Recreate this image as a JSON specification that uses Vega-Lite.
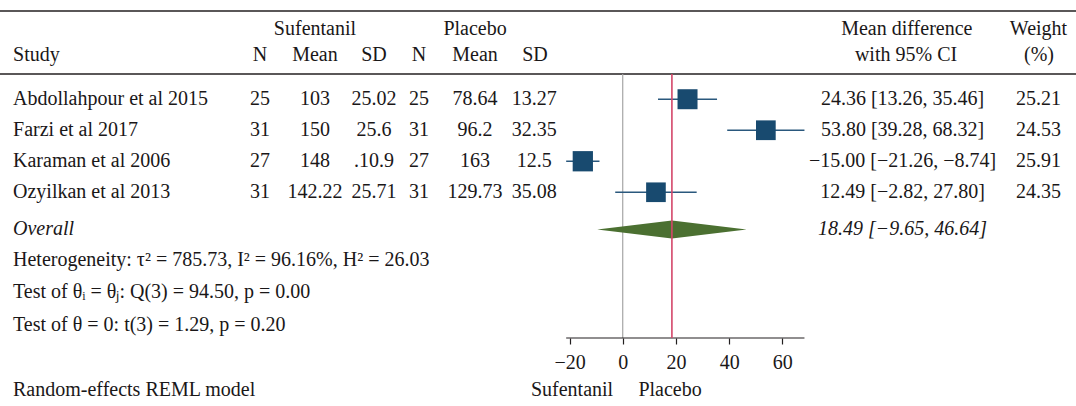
{
  "$schema": "https://vega.github.io/schema/vega-lite/v6.json",
  "width": 1076,
  "height": 338,
  "autosize": {"type": "none"},
  "padding": {"left": 0, "top": 0, "right": 0, "bottom": 68},
  "background": "white",
  "config": {
    "view": {"stroke": null},
    "text": {"font": "Liberation Serif", "fontSize": 20, "color": "#1a1718", "baseline": "middle"},
    "axisY": {"disable": true}
  },
  "datasets": {
    "studies": [
      {"row": 1, "study": "Abdollahpour et al 2015", "n1": 25, "mean1": 103, "sd1": 25.02, "n2": 25, "mean2": 78.64, "sd2": 13.27, "es": 24.36, "lo": 13.26, "hi": 35.46, "weight": 25.21},
      {"row": 2, "study": "Farzi et al 2017", "n1": 31, "mean1": 150, "sd1": 25.6, "n2": 31, "mean2": 96.2, "sd2": 32.35, "es": 53.80, "lo": 39.28, "hi": 68.32, "weight": 24.53},
      {"row": 3, "study": "Karaman et al 2006", "n1": 27, "mean1": 148, "sd1": ".10.9", "n2": 27, "mean2": 163, "sd2": 12.5, "es": -15.00, "lo": -21.26, "hi": -8.74, "weight": 25.91},
      {"row": 4, "study": "Ozyilkan et al 2013", "n1": 31, "mean1": 142.22, "sd1": 25.71, "n2": 31, "mean2": 129.73, "sd2": 35.08, "es": 12.49, "lo": -2.82, "hi": 27.80, "weight": 24.35}
    ],
    "overall": [{"es": 18.49, "lo": -9.65, "hi": 46.64}]
  },
  "data": {"name": "studies"},
  "layer": [
    {
      "data": {"values": [{}]},
      "mark": {"type": "rule", "color": "#231f20", "strokeWidth": 1.5},
      "encoding": {
        "x": {"datum": -234.1, "type": "quantitative", "scale": {"domain": [-234.1, 170.4], "nice": false, "zero": false},
              "axis": {"values": [-20, 0, 20, 40, 60], "title": null, "domain": false, "grid": false, "ticks": true, "tickSize": 6, "tickColor": "#231f20", "tickWidth": 1.2, "labelFont": "Liberation Serif", "labelFontSize": 20, "labelColor": "#1a1718", "labelPadding": 8}},
        "x2": {"datum": 170.4},
        "y": {"datum": -1.845, "type": "quantitative", "scale": {"domain": [-2.2, 8.7], "reverse": true, "nice": false, "zero": false}, "axis": null}
      }
    },
    {
      "data": {"values": [{}]},
      "mark": {"type": "rule", "color": "#231f20", "strokeWidth": 1.5},
      "encoding": {"x": {"datum": -234.1}, "x2": {"datum": 170.4}, "y": {"datum": 0.187}}
    },
    {
      "data": {"values": [{}]},
      "mark": {"type": "rule", "color": "#a6a6a6", "strokeWidth": 1.2},
      "encoding": {"x": {"datum": 0}, "y": {"datum": 0.187}, "y2": {"datum": 8.7}}
    },
    {
      "transform": [{"aggregate": [{"op": "min", "field": "lo", "as": "axmin"}, {"op": "max", "field": "hi", "as": "axmax"}]}],
      "mark": {"type": "rule", "color": "#231f20", "strokeWidth": 1.2},
      "encoding": {"x": {"field": "axmin", "type": "quantitative", "title": null}, "x2": {"field": "axmax"}, "y": {"datum": 8.7}}
    },
    {
      "mark": {"type": "rule", "color": "#2a587d", "strokeWidth": 1.6},
      "encoding": {"x": {"field": "lo", "type": "quantitative", "title": null}, "x2": {"field": "hi"}, "y": {"field": "row", "type": "quantitative", "axis": null}}
    },
    {
      "mark": {"type": "point", "shape": "square", "filled": true, "color": "#184a6f", "opacity": 1},
      "encoding": {
        "x": {"field": "es", "type": "quantitative", "title": null},
        "y": {"field": "row", "type": "quantitative", "axis": null},
        "size": {"field": "weight", "type": "quantitative", "scale": {"domain": [0, 25.21], "range": [0, 400]}, "legend": null}
      }
    },
    {
      "data": {"name": "overall"},
      "mark": {"type": "point", "shape": "M-1,0L0,-0.1205L1,0L0,0.1205Z", "filled": true, "color": "#4b7031", "opacity": 1, "size": 22320},
      "encoding": {"x": {"field": "es", "type": "quantitative", "title": null}, "y": {"datum": 5.2}}
    },
    {
      "data": {"name": "overall"},
      "mark": {"type": "rule", "color": "#d4466a", "strokeWidth": 1.6},
      "encoding": {"x": {"field": "es", "type": "quantitative", "title": null}, "y": {"datum": 0.187}, "y2": {"datum": 8.7}}
    },
    {
      "mark": {"type": "text", "align": "left"},
      "encoding": {"x": {"datum": -229.2}, "y": {"field": "row", "type": "quantitative", "axis": null}, "text": {"field": "study", "type": "nominal"}}
    },
    {
      "mark": {"type": "text", "align": "center"},
      "encoding": {"x": {"datum": -136.35}, "y": {"field": "row", "type": "quantitative", "axis": null}, "text": {"field": "n1", "type": "nominal"}}
    },
    {
      "mark": {"type": "text", "align": "center"},
      "encoding": {"x": {"datum": -115.7}, "y": {"field": "row", "type": "quantitative", "axis": null}, "text": {"field": "mean1", "type": "nominal"}}
    },
    {
      "mark": {"type": "text", "align": "center"},
      "encoding": {"x": {"datum": -93.5}, "y": {"field": "row", "type": "quantitative", "axis": null}, "text": {"field": "sd1", "type": "nominal"}}
    },
    {
      "mark": {"type": "text", "align": "center"},
      "encoding": {"x": {"datum": -76.6}, "y": {"field": "row", "type": "quantitative", "axis": null}, "text": {"field": "n2", "type": "nominal"}}
    },
    {
      "mark": {"type": "text", "align": "center"},
      "encoding": {"x": {"datum": -55.5}, "y": {"field": "row", "type": "quantitative", "axis": null}, "text": {"field": "mean2", "type": "nominal"}}
    },
    {
      "mark": {"type": "text", "align": "center"},
      "encoding": {"x": {"datum": -33.3}, "y": {"field": "row", "type": "quantitative", "axis": null}, "text": {"field": "sd2", "type": "nominal"}}
    },
    {
      "transform": [{"calculate": "format(datum.es, '.2f') + ' [' + format(datum.lo, '.2f') + ', ' + format(datum.hi, '.2f') + ']'", "as": "citext"}],
      "mark": {"type": "text", "align": "center"},
      "encoding": {"x": {"datum": 105.2}, "y": {"field": "row", "type": "quantitative", "axis": null}, "text": {"field": "citext", "type": "nominal"}}
    },
    {
      "mark": {"type": "text", "align": "center"},
      "encoding": {"x": {"datum": 156.3}, "y": {"field": "row", "type": "quantitative", "axis": null}, "text": {"field": "weight", "type": "quantitative", "format": ".2f"}}
    },
    {
      "data": {"name": "overall"},
      "transform": [{"calculate": "format(datum.es, '.2f') + ' [' + format(datum.lo, '.2f') + ', ' + format(datum.hi, '.2f') + ']'", "as": "citext"}],
      "mark": {"type": "text", "align": "center", "fontStyle": "italic"},
      "encoding": {"x": {"datum": 105.2}, "y": {"datum": 5.2}, "text": {"field": "citext", "type": "nominal"}}
    },
    {"data": {"values": [{}]}, "mark": {"type": "text", "text": "Sufentanil", "align": "center"}, "encoding": {"x": {"datum": -115.7}, "y": {"datum": -1.265}}},
    {"data": {"values": [{}]}, "mark": {"type": "text", "text": "Placebo", "align": "center"}, "encoding": {"x": {"datum": -55.5}, "y": {"datum": -1.265}}},
    {"data": {"values": [{}]}, "mark": {"type": "text", "text": "Study", "align": "left"}, "encoding": {"x": {"datum": -229.2}, "y": {"datum": -0.426}}},
    {"data": {"values": [{}]}, "mark": {"type": "text", "text": "N", "align": "center"}, "encoding": {"x": {"datum": -136.35}, "y": {"datum": -0.426}}},
    {"data": {"values": [{}]}, "mark": {"type": "text", "text": "Mean", "align": "center"}, "encoding": {"x": {"datum": -115.7}, "y": {"datum": -0.426}}},
    {"data": {"values": [{}]}, "mark": {"type": "text", "text": "SD", "align": "center"}, "encoding": {"x": {"datum": -93.5}, "y": {"datum": -0.426}}},
    {"data": {"values": [{}]}, "mark": {"type": "text", "text": "N", "align": "center"}, "encoding": {"x": {"datum": -76.6}, "y": {"datum": -0.426}}},
    {"data": {"values": [{}]}, "mark": {"type": "text", "text": "Mean", "align": "center"}, "encoding": {"x": {"datum": -55.5}, "y": {"datum": -0.426}}},
    {"data": {"values": [{}]}, "mark": {"type": "text", "text": "SD", "align": "center"}, "encoding": {"x": {"datum": -33.0}, "y": {"datum": -0.426}}},
    {"data": {"values": [{}]}, "mark": {"type": "text", "text": "Mean difference", "align": "center"}, "encoding": {"x": {"datum": 106.8}, "y": {"datum": -1.265}}},
    {"data": {"values": [{}]}, "mark": {"type": "text", "text": "with 95% CI", "align": "center"}, "encoding": {"x": {"datum": 106.5}, "y": {"datum": -0.426}}},
    {"data": {"values": [{}]}, "mark": {"type": "text", "text": "Weight", "align": "center"}, "encoding": {"x": {"datum": 156.3}, "y": {"datum": -1.265}}},
    {"data": {"values": [{}]}, "mark": {"type": "text", "text": "(%)", "align": "center"}, "encoding": {"x": {"datum": 156.5}, "y": {"datum": -0.426}}},
    {"data": {"values": [{}]}, "mark": {"type": "text", "text": "Overall", "align": "left", "fontStyle": "italic"}, "encoding": {"x": {"datum": -229.2}, "y": {"datum": 5.2}}},
    {"data": {"values": [{}]}, "mark": {"type": "text", "text": "Heterogeneity: τ² = 785.73, I² = 96.16%, H² = 26.03", "align": "left"}, "encoding": {"x": {"datum": -229.2}, "y": {"datum": 6.19}}},
    {"data": {"values": [{}]}, "mark": {"type": "text", "text": "Test of θᵢ = θⱼ: Q(3) = 94.50, p = 0.00", "align": "left"}, "encoding": {"x": {"datum": -229.2}, "y": {"datum": 7.22}}},
    {"data": {"values": [{}]}, "mark": {"type": "text", "text": "Test of θ = 0: t(3) = 1.29, p = 0.20", "align": "left"}, "encoding": {"x": {"datum": -229.2}, "y": {"datum": 8.28}}},
    {"data": {"values": [{}]}, "mark": {"type": "text", "text": "Random-effects REML model", "align": "left"}, "encoding": {"x": {"datum": -229.2}, "y": {"datum": 10.38}}},
    {"data": {"values": [{}]}, "mark": {"type": "text", "text": "Sufentanil", "align": "center"}, "encoding": {"x": {"datum": -19.06}, "y": {"datum": 10.38}}},
    {"data": {"values": [{}]}, "mark": {"type": "text", "text": "Placebo", "align": "center"}, "encoding": {"x": {"datum": 17.8}, "y": {"datum": 10.38}}}
  ]
}
